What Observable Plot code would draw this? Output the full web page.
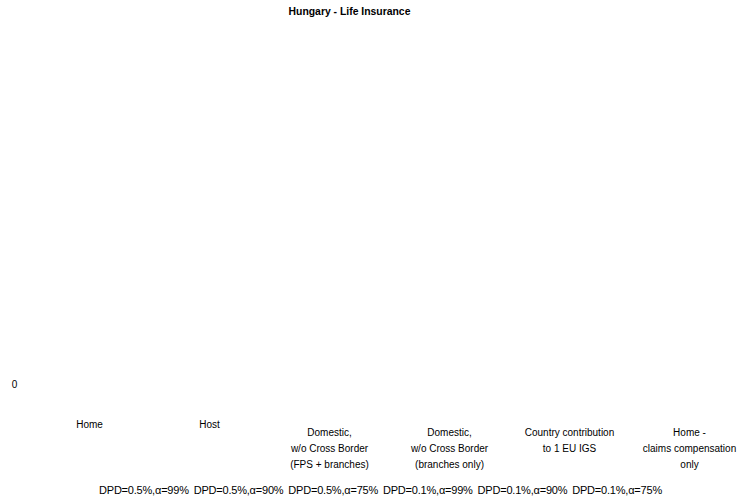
<!DOCTYPE html>
<html>
<head>
<meta charset="utf-8">
<script src="https://cdn.jsdelivr.net/npm/d3@7"></script>
<script src="https://cdn.jsdelivr.net/npm/@observablehq/plot@0.6"></script>
<style>
  html, body { margin: 0; padding: 0; background: #fff; }
  #wrap { position: relative; width: 747px; height: 502px; font-family: "Liberation Sans", Arial, sans-serif; overflow: hidden; }
  #title { position: absolute; left: -24px; width: 747px; top: 6px; text-align: center; font-weight: bold; font-size: 10.4px; color: #000; }
  #legend { position: absolute; left: 7px; width: 747px; top: 484px; text-align: center; font-size: 11px; letter-spacing: -0.2px; color: #000; white-space: nowrap; }
  #legend span { margin: 0 1px; }
</style>
</head>
<body>
<div id="wrap">
  <div id="chart"></div>
  <div id="title">Hungary - Life Insurance</div>
  <div id="legend"></div>
</div>
<script>
const categories = [
  "Home",
  "Host",
  "Domestic,\nw/o Cross Border\n(FPS + branches)",
  "Domestic,\nw/o Cross Border\n(branches only)",
  "Country contribution\nto 1 EU IGS",
  "Home -\nclaims compensation\nonly"
];
const series = ["DPD=0.5%,α=99%", "DPD=0.5%,α=90%", "DPD=0.5%,α=75%", "DPD=0.1%,α=99%", "DPD=0.1%,α=90%", "DPD=0.1%,α=75%"];
const values = [
  [0, 0, 0, 0, 0, 0],
  [0, 0, 0, 0, 0, 0],
  [0, 0, 0, 0, 0, 0],
  [0, 0, 0, 0, 0, 0],
  [0, 0, 0, 0, 0, 0],
  [0, 0, 0, 0, 0, 0]
];
const yTicks = [0];

const data = [];
series.forEach((s, i) => categories.forEach((c, j) => data.push({series: s, category: c, value: values[i][j]})));

const single = categories.filter(c => !c.includes("\n"));
const multi = categories.filter(c => c.includes("\n"));

const chart = Plot.plot({
  width: 747,
  height: 502,
  marginTop: 40,
  marginBottom: 118,
  marginLeft: 29,
  marginRight: 0,
  style: {fontFamily: "'Liberation Sans', Arial, sans-serif", fontSize: "10px", background: "#fff", color: "#000"},
  x: {domain: categories, range: [29, 749], padding: 0, axis: null},
  y: {domain: [0, 1], ticks: yTicks, axis: null},
  color: {domain: series, range: ["#4a6fa5", "#9fb8d6", "#c9d6e8", "#a33b3b", "#d98c8c", "#eec6c6"]},
  marks: [
    Plot.barY(data, {x: "category", y: "value", fill: "series", inset: 4}),
    Plot.text(yTicks, {x: () => categories[0], y: d => d, text: d => String(d), dx: -75, fontSize: 10, letterSpacing: "-0.2px"}),
    Plot.text(single, {x: d => d, y: () => 0, text: d => d, dy: 36, lineAnchor: "top", fontSize: 10, letterSpacing: "-0.3px", fill: "#000"}),
    Plot.text(multi, {x: d => d, y: () => 0, text: d => d, dy: 40, lineAnchor: "top", lineHeight: 1.6, fontSize: 10, letterSpacing: "-0.3px", fill: "#000"})
  ]
});
document.getElementById("chart").appendChild(chart);

const legend = document.getElementById("legend");
legend.innerHTML = series.map(s => `<span>${s}</span>`).join(" ");
</script>
</body>
</html>
